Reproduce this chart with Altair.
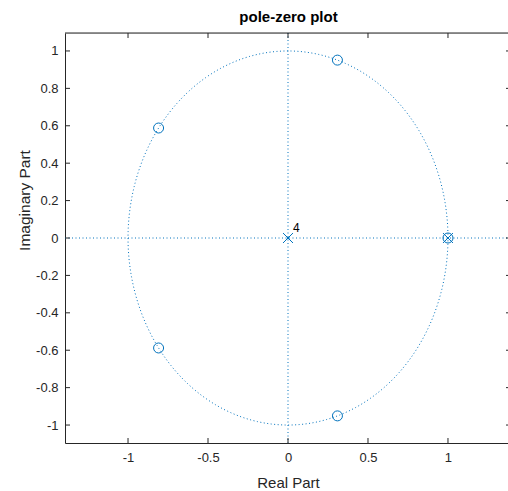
import numpy as np
import pandas as pd
import altair as alt

# zeros (o) and poles (x) of the system, read in the z-plane
zero_re = [1.0, 0.309, 0.309, -0.809, -0.809]
zero_im = [0.0, 0.951, -0.951, 0.588, -0.588]
pole_re = [0.0, 1.0]
pole_im = [0.0, 0.0]
pole_mult = ["4", ""]

x_ticks = [-1, -0.5, 0, 0.5, 1]
y_ticks = [-1, -0.8, -0.6, -0.4, -0.2, 0, 0.2, 0.4, 0.6, 0.8, 1]

W, H = 443, 410
BLUE = "#0072BD"
AX = "#262626"
FONT = "Liberation Sans"

zeros = pd.DataFrame({"re": zero_re, "im": zero_im})
poles = pd.DataFrame({"re": pole_re, "im": pole_im, "m": pole_mult})

# unit circle |z| = 1
t = np.linspace(0, 2 * np.pi, 361)
circle = pd.DataFrame({"re": np.cos(t), "im": np.sin(t), "k": np.arange(len(t))})

xs = alt.Scale(domain=[-1.394, 1.394], range=[0, 446], nice=False, zero=False)
ys = alt.Scale(domain=[-1.096, 1.096], nice=False, zero=False)

x_axis = alt.Axis(values=x_ticks, ticks=False, grid=False, domainColor=AX,
                  labelColor=AX, labelFont=FONT, labelFontSize=13, labelPadding=8,
                  labelExpr="'' + datum.value", title="Real Part", titleFont=FONT,
                  titleFontSize=15, titleFontWeight="normal", titleColor=AX,
                  titleX=223, titleY=39, titleAlign="center", titleBaseline="middle")
y_axis = alt.Axis(values=y_ticks, ticks=False, grid=False, domainColor=AX,
                  labelColor=AX, labelFont=FONT, labelFontSize=13, labelPadding=7,
                  labelExpr="'' + datum.value", title="Imaginary Part", titleFont=FONT,
                  titleFontSize=15.5, titleFontWeight="normal", titleColor=AX,
                  titleX=-41, titleY=167, titleAngle=270, titleAlign="center",
                  titleBaseline="middle")

unit = alt.Chart(circle).mark_line(color=BLUE, strokeWidth=1, strokeDash=[1, 2.5]).encode(
    x=alt.X("re:Q", scale=xs, axis=x_axis),
    y=alt.Y("im:Q", scale=ys, axis=y_axis),
    order="k:Q",
)

origin = pd.DataFrame({"v": [0]})
vline = alt.Chart(origin).mark_rule(color=BLUE, strokeWidth=1, strokeDash=[1, 2.5]).encode(
    x=alt.X("v:Q", scale=xs), y=alt.value(0), y2=alt.value(H))
hline = alt.Chart(origin).mark_rule(color=BLUE, strokeWidth=1, strokeDash=[1, 2.5]).encode(
    y=alt.Y("v:Q", scale=ys), x=alt.value(0), x2=alt.value(446))

zero_pts = alt.Chart(zeros).mark_point(shape="circle", size=100, filled=False,
                                       color=BLUE, strokeWidth=1, opacity=1).encode(
    x=alt.X("re:Q", scale=xs), y=alt.Y("im:Q", scale=ys))
pole_pts = alt.Chart(poles).mark_point(shape="M-1,-1L1,1M1,-1L-1,1", size=100, filled=False,
                                       color=BLUE, strokeWidth=1, opacity=1).encode(
    x=alt.X("re:Q", scale=xs), y=alt.Y("im:Q", scale=ys))
pole_txt = alt.Chart(poles).mark_text(align="left", baseline="middle", dx=5, dy=-10,
                                      font=FONT, fontSize=12, color="#000000").encode(
    x=alt.X("re:Q", scale=xs), y=alt.Y("im:Q", scale=ys), text="m:N")

# inward tick marks on all four sides, plus the top frame line
xt = pd.DataFrame({"v": x_ticks})
yt = pd.DataFrame({"v": y_ticks})
tick_b = alt.Chart(xt).mark_rule(color=AX, strokeWidth=1).encode(
    x=alt.X("v:Q", scale=xs), y=alt.value(H), y2=alt.value(H - 5))
tick_t = alt.Chart(xt).mark_rule(color=AX, strokeWidth=1).encode(
    x=alt.X("v:Q", scale=xs), y=alt.value(0), y2=alt.value(5))
tick_l = alt.Chart(yt).mark_rule(color=AX, strokeWidth=1).encode(
    y=alt.Y("v:Q", scale=ys), x=alt.value(0), x2=alt.value(5))
tick_r = alt.Chart(yt).mark_rule(color=AX, strokeWidth=1).encode(
    y=alt.Y("v:Q", scale=ys), x=alt.value(446), x2=alt.value(441))
top_line = alt.Chart(origin).mark_rule(color=AX, strokeWidth=1).encode(
    y=alt.value(0), x=alt.value(0), x2=alt.value(446))

chart = alt.layer(
    unit, vline, hline, zero_pts, pole_pts, pole_txt,
    tick_b, tick_t, tick_l, tick_r, top_line,
).properties(
    width=W, height=H,
    title=alt.TitleParams("pole-zero plot", font=FONT, fontSize=15, fontWeight="bold",
                          color="#000000", anchor="middle", offset=8, dx=2),
    padding={"left": 65, "top": 33, "right": 0, "bottom": 48},
    autosize=alt.AutoSizeParams(type="none"),
).configure_view(strokeWidth=0).configure(background="white")

chart.save("out.html", embed_options={"renderer": "svg", "actions": False})
